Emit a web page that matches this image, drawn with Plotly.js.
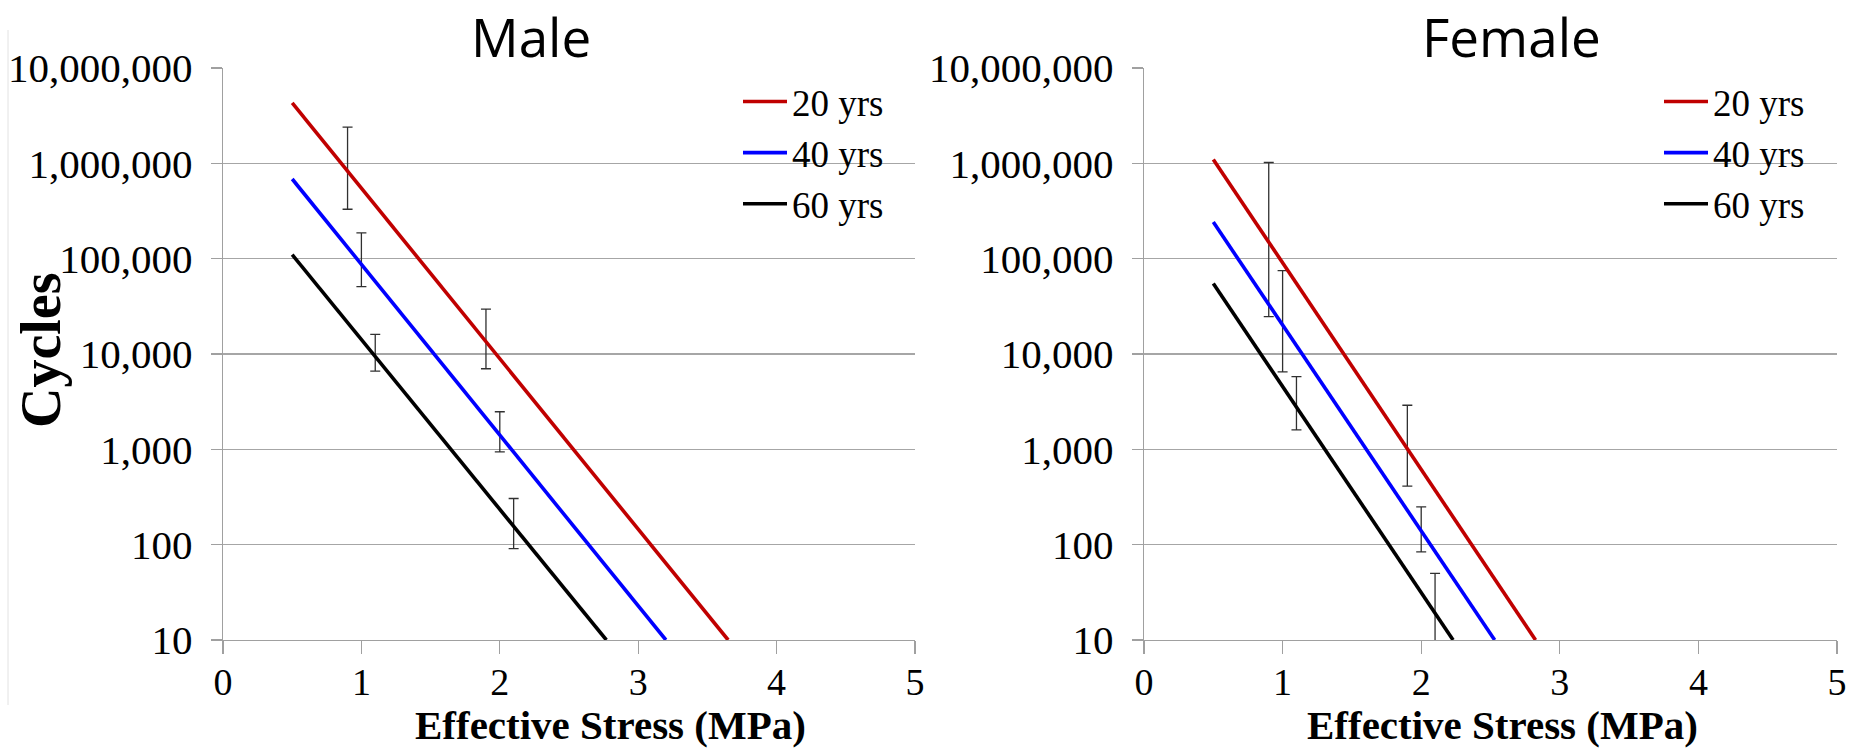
<!DOCTYPE html>
<html>
<head>
<meta charset="utf-8">
<script src="https://cdn.plot.ly/plotly-3.0.1.min.js"></script>
<style>html,body{margin:0;padding:0;background:#fff;}#chart{width:1849px;height:751px;}</style>
</head>
<body>
<div id="chart"></div>
<script>
// ---- data ----
const seriesNames = ['20 yrs', '40 yrs', '60 yrs'];
const seriesColors = ['#C00000', '#0000FF', '#000000'];

// Male S-N lines (start at 0.5 MPa, end where they reach 10 cycles)
const maleX20 = [0.5, 3.65];  const maleY20 = [4.3e6, 10];
const maleX40 = [0.5, 3.20];  const maleY40 = [6.85e5, 10];
const maleX60 = [0.5, 2.77];  const maleY60 = [1.1e5, 10];

// Female S-N lines
const femaleX20 = [0.5, 2.825]; const femaleY20 = [1.1e6, 10];
const femaleX40 = [0.5, 2.53];  const femaleY40 = [2.42e5, 10];
const femaleX60 = [0.5, 2.23];  const femaleY60 = [5.5e4, 10];

// Error bars (experimental ranges)
const maleErrX    = [0.9, 1.0, 1.1, 1.9, 2.0, 2.1];
const maleErrHigh = [2.4e6, 1.86e5, 1.61e4, 2.96e4, 2480, 305];
const maleErrLow  = [3.3e5, 5.1e4, 6600, 7000, 940, 91];

const femaleErrX    = [0.9, 1.0, 1.1, 1.9, 2.0, 2.1];
const femaleErrHigh = [1.02e6, 7.5e4, 5800, 2900, 249, 50];
const femaleErrLow  = [2.47e4, 6500, 1600, 411, 84, 2];

const xTickVals = [0, 1, 2, 3, 4, 5];
const yTickVals = [10, 100, 1000, 10000, 100000, 1000000, 10000000];
const yTickText = ['10', '100', '1,000', '10,000', '100,000', '1,000,000', '10,000,000'];

// ---- build ----
const W = 1849, H = 751;
const px = v => v / W;
const py = v => 1 - v / H;
const serif = 'Liberation Serif, Times New Roman, serif';

function lineTrace(x, y, i, xa, ya, leg) {
  return {x: x, y: y, type: 'scatter', mode: 'lines', name: seriesNames[i],
    line: {color: seriesColors[i], width: 3.6}, xaxis: xa, yaxis: ya, legend: leg, hoverinfo: 'skip'};
}
function errTrace(x, hi, lo, xa, ya) {
  const c = hi.map((h, k) => Math.sqrt(h * lo[k]));
  return {x: x, y: c, type: 'scatter', mode: 'markers', showlegend: false,
    marker: {size: 1, opacity: 0}, xaxis: xa, yaxis: ya, hoverinfo: 'skip',
    error_y: {type: 'data', symmetric: false,
      array: hi.map((h, k) => h - c[k]), arrayminus: lo.map((l, k) => c[k] - l),
      color: '#303030', thickness: 1.3, width: 5}};
}

const traces = [
  errTrace(maleErrX, maleErrHigh, maleErrLow, 'x', 'y'),
  lineTrace(maleX20, maleY20, 0, 'x', 'y', 'legend'),
  lineTrace(maleX40, maleY40, 1, 'x', 'y', 'legend'),
  lineTrace(maleX60, maleY60, 2, 'x', 'y', 'legend'),
  errTrace(femaleErrX, femaleErrHigh, femaleErrLow, 'x2', 'y2'),
  lineTrace(femaleX20, femaleY20, 0, 'x2', 'y2', 'legend2'),
  lineTrace(femaleX40, femaleY40, 1, 'x2', 'y2', 'legend2'),
  lineTrace(femaleX60, femaleY60, 2, 'x2', 'y2', 'legend2')
];

function xAxis(domain, anchor) {
  return {domain: domain, anchor: anchor, range: [0, 5], tickvals: xTickVals,
    showgrid: false, zeroline: false, showline: true, linecolor: '#A0A0A0', linewidth: 1.3,
    ticks: 'outside', ticklen: 13, tickcolor: '#A0A0A0', tickwidth: 1.3,
    ticklabelstandoff: -5,
    tickfont: {family: serif, size: 38, color: '#000'}, fixedrange: true};
}
function yAxis(domain, anchor) {
  return {domain: domain, anchor: anchor, type: 'log', range: [1, 7],
    tickvals: yTickVals, ticktext: yTickText,
    showgrid: true, gridcolor: '#A6A6A6', gridwidth: 1.3, zeroline: false,
    showline: true, linecolor: '#A0A0A0', linewidth: 1.3,
    ticks: 'outside', ticklen: 11, tickcolor: '#A0A0A0', tickwidth: 1.3,
    ticklabelstandoff: 10,
    tickfont: {family: serif, size: 41, color: '#000'}, fixedrange: true};
}

const yDom = [py(640), py(68)];
const legendFont = {family: serif, size: 37, color: '#000'};
const layout = {
  width: W, height: H,
  margin: {l: 0, r: 0, t: 0, b: 0},
  paper_bgcolor: '#fff', plot_bgcolor: '#fff',
  xaxis: xAxis([px(223), px(915)], 'y'),
  yaxis: yAxis(yDom, 'x'),
  xaxis2: xAxis([px(1144), px(1837)], 'y2'),
  yaxis2: yAxis(yDom, 'x2'),
  legend: {x: px(738), y: py(71), xanchor: 'left', yanchor: 'top', bgcolor: 'rgba(0,0,0,0)',
    font: legendFont, itemwidth: 44, tracegroupgap: 0},
  legend2: {x: px(1659), y: py(71), xanchor: 'left', yanchor: 'top', bgcolor: 'rgba(0,0,0,0)',
    font: legendFont, itemwidth: 44, tracegroupgap: 0},
  annotations: [
    {text: 'Male', xref: 'paper', yref: 'paper', x: px(531), y: py(37), xanchor: 'center', yanchor: 'middle',
      showarrow: false, font: {family: 'Open Sans, sans-serif', size: 53, color: '#000'}},
    {text: 'Female', xref: 'paper', yref: 'paper', x: px(1511), y: py(37), xanchor: 'center', yanchor: 'middle',
      showarrow: false, font: {family: 'Open Sans, sans-serif', size: 53, color: '#000'}},
    {text: '<b>Effective Stress (MPa)</b>', xref: 'paper', yref: 'paper', x: px(610), y: py(725),
      xanchor: 'center', yanchor: 'middle', showarrow: false, font: {family: serif, size: 41, color: '#000'}},
    {text: '<b>Effective Stress (MPa)</b>', xref: 'paper', yref: 'paper', x: px(1502), y: py(725),
      xanchor: 'center', yanchor: 'middle', showarrow: false, font: {family: serif, size: 41, color: '#000'}},
    {text: '<b>Cycles</b>', xref: 'paper', yref: 'paper', x: px(41), y: py(350), textangle: -90,
      xanchor: 'center', yanchor: 'middle', showarrow: false, font: {family: serif, size: 56, color: '#000'}}
  ],
  shapes: [
    {type: 'line', xref: 'paper', yref: 'paper', x0: px(8), x1: px(8), y0: py(30), y1: py(705),
      line: {color: '#E2E2E2', width: 1}}
  ]
};

Plotly.newPlot('chart', traces, layout, {displayModeBar: false, staticPlot: true});
</script>
</body>
</html>
